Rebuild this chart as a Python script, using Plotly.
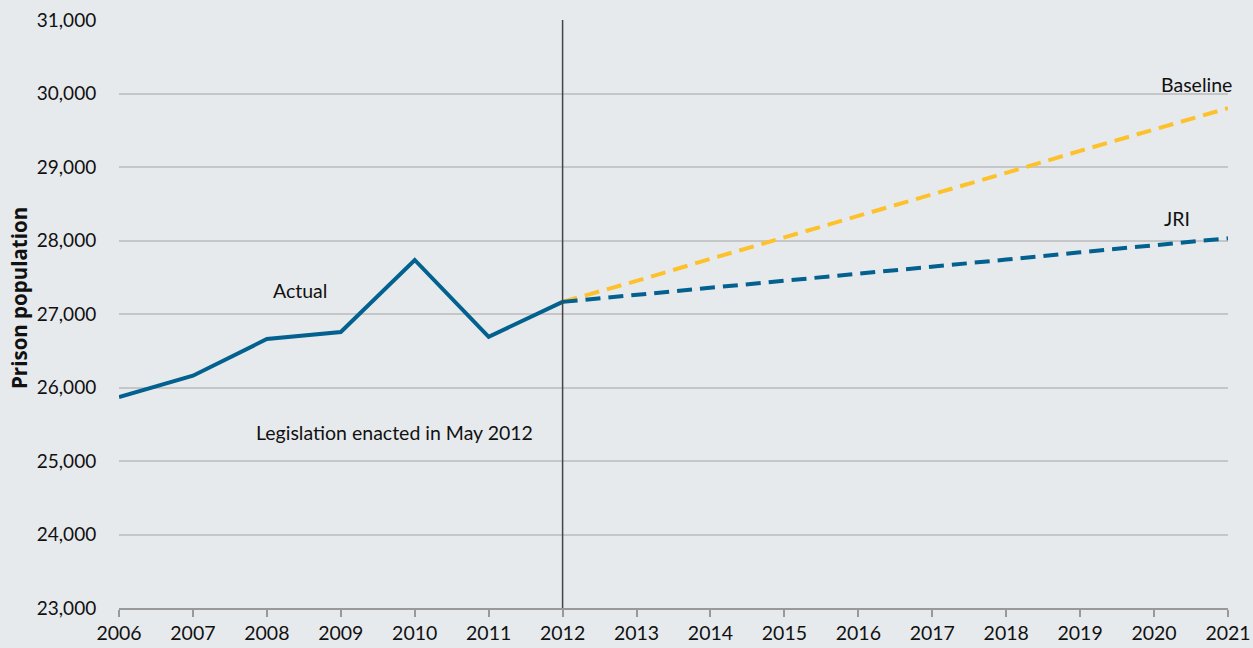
import plotly.graph_objects as go

years_actual = [2006, 2007, 2008, 2009, 2010, 2011, 2012]
actual = [25870, 26160, 26660, 26755, 27735, 26690, 27165]

years_proj = [2012, 2013, 2014, 2015, 2016, 2017, 2018, 2019, 2020, 2021]
baseline = [27165, 27450, 27750, 28040, 28330, 28630, 28920, 29220, 29510, 29800]
jri = [27165, 27260, 27350, 27450, 27550, 27640, 27740, 27840, 27930, 28030]

x_ticks = list(range(2006, 2022))
y_ticks = list(range(23000, 31001, 1000))

BLUE = "#02618e"
YELLOW = "#fdc12b"
BG = "#e7eaed"
FONT = "Lato"

fig = go.Figure()
fig.add_trace(go.Scatter(x=years_proj, y=baseline, mode="lines",
                         line=dict(color=YELLOW, width=4, dash="15px,8px"), name="Baseline"))
fig.add_trace(go.Scatter(x=years_proj, y=jri, mode="lines",
                         line=dict(color=BLUE, width=4, dash="15px,8px"), name="JRI"))
fig.add_trace(go.Scatter(x=years_actual, y=actual, mode="lines",
                         line=dict(color=BLUE, width=4), name="Actual"))

fig.add_shape(type="line", x0=2012, x1=2012, y0=23000, y1=31000, xref="x", yref="y",
              line=dict(color="#444444", width=1.5), layer="above")

# target plot area on screen: x 119..1228, y 20..608 (body margin removed via post_script)
L, R, T, B = 119, 1228, 20, 608
W, H = 1253, 648


def px(xs):
    return (xs - L) / float(R - L)


def py(ys):
    return (B - ys) / float(B - T)


annots = [
    dict(x=px(300), y=py(290), text="Actual", xanchor="center"),
    dict(x=px(394), y=py(433), text="Legislation enacted in May 2012", xanchor="center"),
    dict(x=px(1234), y=py(85), text="Baseline", xanchor="right"),
    dict(x=px(1177), y=py(218), text="JRI", xanchor="center"),
]
for a in annots:
    fig.add_annotation(x=a["x"], y=a["y"], xref="paper", yref="paper", text=a["text"],
                       xanchor=a["xanchor"], yanchor="middle", showarrow=False,
                       font=dict(family=FONT, size=19.5, color="#111111"))

fig.add_annotation(x=px(19), y=py(298), xref="paper", yref="paper",
                   text="<b>Prison population</b>", textangle=-90,
                   xanchor="center", yanchor="middle", showarrow=False,
                   font=dict(family="Open Sans", size=20.5, color="#111111"))

fig.update_layout(
    width=W, height=H,
    margin=dict(l=L, r=W - R, t=T, b=H - B, autoexpand=False),
    paper_bgcolor=BG, plot_bgcolor=BG,
    showlegend=False,
    font=dict(family=FONT, size=17, color="#111111"),
)
fig.update_xaxes(range=[2006, 2021], tickvals=x_ticks, ticktext=[str(v) for v in x_ticks],
                 automargin=False, ticklabeloverflow="allow",
                 showgrid=False, zeroline=False, showline=True, linecolor="#999999", linewidth=1.5,
                 ticks="outside", ticklen=7, tickcolor="#999999", tickwidth=1.5,
                 tickfont=dict(family=FONT, size=19.5, color="#111111"))
fig.update_yaxes(range=[23000, 31000], tickvals=y_ticks,
                 ticktext=[f"{v:,}" for v in y_ticks], automargin=False,
                 ticklabeloverflow="allow",
                 showgrid=True, gridcolor="#c4c6c8", gridwidth=1.5, zeroline=False, showline=False,
                 ticks="outside", ticklen=18, tickcolor="rgba(0,0,0,0)",
                 tickfont=dict(family=FONT, size=19, color="#111111"))

fig.write_html(
    "out.html",
    config={"displayModeBar": False},
    post_script="document.body.style.margin='0';document.body.style.overflow='hidden';"
                "document.body.style.background='" + BG + "';",
)
